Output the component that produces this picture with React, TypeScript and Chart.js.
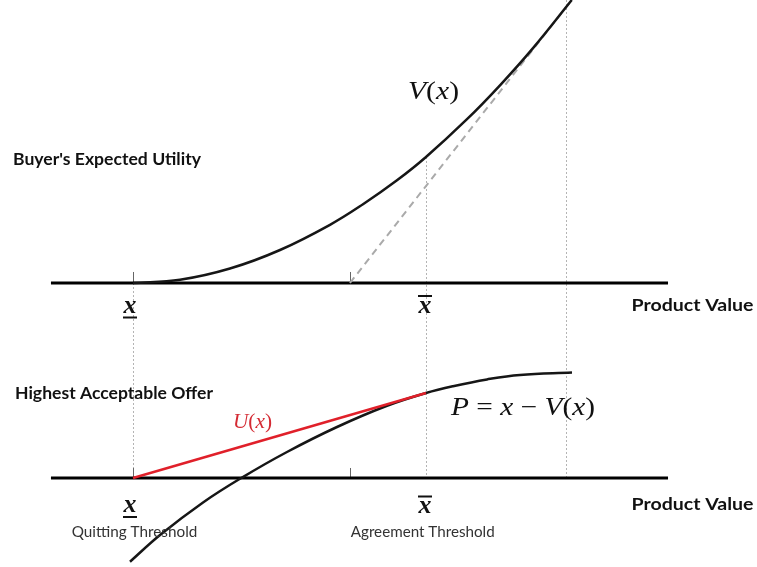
import React, { useEffect, useRef } from "react";
import { Chart, registerables } from "chart.js";

Chart.register(...registerables);

// ---- Key product values (x axis) ----
const QUIT_X = 1; // quitting threshold (x underline)
const AGREE_X = 5; // agreement threshold (x bar)
const KINK_X = 3.962; // where the dashed tangent leaves the axis
const CAP_X = 6.911; // right-hand guide
const AXIS_FROM = -0.12;
const AXIS_TO = 8.304;

// ---- Top panel: buyer's expected utility V(x) ----
const vX = [1.0, 1.642, 2.324, 3.007, 3.689, 4.14, 4.604, 5.0, 5.56, 6.01, 6.461, 6.99];
const vY = [0, 0.026, 0.115, 0.262, 0.462, 0.625, 0.815, 1.0, 1.3, 1.569, 1.864, 2.246];
const tangentX = [KINK_X, 6.99];
const tangentY = [0, 2.246];

// ---- Bottom panel: highest acceptable offer P = x - V(x) ----
const pX = [0.959, 1.369, 1.956, 2.488, 3.102, 3.785, 4.468, 5.0, 5.369, 5.833, 6.283, 6.993];
const pY = [-0.985, -0.671, -0.288, 0.005, 0.306, 0.6, 0.85, 1.0, 1.08, 1.16, 1.213, 1.24];
const uX = [QUIT_X, AGREE_X];
const uY = [0, 1.0];

const tickX = [QUIT_X, KINK_X];

const zip = (xs: number[], ys: number[]) => xs.map((x, i) => ({ x, y: ys[i] }));

type Run = { t: string; style?: string };

function drawRuns(
  ctx: CanvasRenderingContext2D,
  runs: Run[],
  family: string,
  weight: string | number,
  size: number,
  x: number,
  baseline: number,
  width: number | null,
  color: string,
  align: "left" | "center" = "left"
) {
  ctx.save();
  const fonts = runs.map((r) => `${r.style ?? "normal"} ${weight} ${size}px ${family}`);
  let total = 0;
  runs.forEach((r, i) => {
    ctx.font = fonts[i];
    total += ctx.measureText(r.t).width;
  });
  const sx = width ? width / total : 1;
  const startX = align === "center" ? x - (total * sx) / 2 : x;
  ctx.translate(startX, baseline);
  ctx.scale(sx, 1);
  ctx.fillStyle = color;
  ctx.textAlign = "left";
  ctx.textBaseline = "alphabetic";
  let cx = 0;
  runs.forEach((r, i) => {
    ctx.font = fonts[i];
    ctx.fillText(r.t, cx, 0);
    cx += ctx.measureText(r.t).width;
  });
  ctx.restore();
}

const SANS = "Lato, 'Open Sans', sans-serif";
const SERIF = "'Liberation Serif', 'DejaVu Serif', serif";

const diagramPlugin = {
  id: "diagram",
  beforeDatasetsDraw(chart: any) {
    const { ctx, scales, chartArea } = chart;
    const xs = scales.x;
    const yT = scales.yTop;
    const yB = scales.yBot;
    ctx.save();
    // dotted guides
    ctx.strokeStyle = "#b4b4b4";
    ctx.lineWidth = 1;
    ctx.setLineDash([2, 2]);
    const guide = (xv: number, yFrom: number, yTo: number) => {
      const px = Math.round(xs.getPixelForValue(xv)) + 0.5;
      ctx.beginPath();
      ctx.moveTo(px, yFrom);
      ctx.lineTo(px, yTo);
      ctx.stroke();
    };
    guide(QUIT_X, yT.getPixelForValue(0), yB.getPixelForValue(0));
    guide(AGREE_X, yT.getPixelForValue(vY[vX.indexOf(AGREE_X)]), yB.getPixelForValue(0));
    guide(CAP_X, chartArea.top, yB.getPixelForValue(0));
    ctx.setLineDash([]);
    // small ticks
    ctx.strokeStyle = "#666";
    tickX.forEach((tv) => {
      const px = Math.round(xs.getPixelForValue(tv)) + 0.5;
      const t0 = yT.getPixelForValue(0);
      const b0 = yB.getPixelForValue(0);
      ctx.beginPath();
      ctx.moveTo(px, t0);
      ctx.lineTo(px, t0 - 11);
      ctx.moveTo(px, b0);
      ctx.lineTo(px, b0 - 10);
      ctx.stroke();
    });
    ctx.restore();
  },
  afterDraw(chart: any) {
    const { ctx, scales } = chart;
    const xs = scales.x;
    const qx = xs.getPixelForValue(QUIT_X);
    const ax = xs.getPixelForValue(AGREE_X);
    const dark = "#111";

    drawRuns(ctx, [{ t: "Buyer's Expected Utility" }], SANS, 700, 17, 13, 164.5, 188, dark);
    drawRuns(ctx, [{ t: "Highest Acceptable Offer" }], SANS, 700, 17, 15, 399, 198, dark);
    drawRuns(ctx, [{ t: "Product Value" }], SANS, 700, 17, 631.5, 311, 122, dark);
    drawRuns(ctx, [{ t: "Product Value" }], SANS, 700, 17, 631.5, 510, 122, dark);
    drawRuns(ctx, [{ t: "Quitting Threshold" }], SANS, 400, 15, 71.7, 536.5, 125.6, "#333");
    drawRuns(ctx, [{ t: "Agreement Threshold" }], SANS, 400, 15, 350.7, 537, 144, "#333");

    // math labels
    drawRuns(
      ctx,
      [{ t: "V", style: "italic" }, { t: "(" }, { t: "x", style: "italic" }, { t: ")" }],
      SERIF, 400, 25, 408, 98.5, 51, dark
    );
    drawRuns(
      ctx,
      [{ t: "U", style: "italic" }, { t: "(" }, { t: "x", style: "italic" }, { t: ")" }],
      SERIF, 400, 21, 233, 427.5, 39, "#d42a33"
    );
    drawRuns(
      ctx,
      [
        { t: "P", style: "italic" },
        { t: " = " },
        { t: "x", style: "italic" },
        { t: " \u2212 " },
        { t: "V", style: "italic" },
        { t: "(" },
        { t: "x", style: "italic" },
        { t: ")" },
      ],
      SERIF, 400, 25, 451, 415, 144, dark
    );

    // x underline / x bar symbols
    const sym = (cx: number, baseline: number, bar: "under" | "over") => {
      drawRuns(ctx, [{ t: "x", style: "italic" }], SERIF, 700, 26, cx, baseline, null, dark, "center");
      ctx.save();
      ctx.strokeStyle = dark;
      ctx.lineWidth = 2;
      const yy = bar === "under" ? baseline + 5 : baseline - 16.5;
      ctx.beginPath();
      ctx.moveTo(cx - 7, yy);
      ctx.lineTo(cx + 7, yy);
      ctx.stroke();
      ctx.restore();
    };
    sym(qx - 3, 312.5, "under");
    sym(qx - 3, 512, "under");
    sym(ax - 1, 312.5, "over");
    sym(ax - 1, 513, "over");
  },
};

export default function App() {
  const ref = useRef<HTMLCanvasElement | null>(null);

  useEffect(() => {
    document.body.style.margin = "0";
    document.body.style.overflow = "hidden";
    const canvas = ref.current;
    if (!canvas) return;
    const line = (extra: any) => ({
      pointRadius: 0,
      fill: false,
      borderCapStyle: "butt",
      ...extra,
    });
    const chart = new Chart(canvas, {
      type: "line",
      data: {
        datasets: [
          line({ label: "U(x)", data: zip(uX, uY), yAxisID: "yBot", borderColor: "#e0202a", borderWidth: 2.5, tension: 0 }),
          line({ label: "P", data: zip(pX, pY), yAxisID: "yBot", borderColor: "#161616", borderWidth: 2.5, tension: 0.4 }),
          line({ label: "V(x)", data: zip(vX, vY), yAxisID: "yTop", borderColor: "#161616", borderWidth: 2.5, tension: 0.4 }),
          line({ label: "tangent", data: zip(tangentX, tangentY), yAxisID: "yTop", borderColor: "#aaaaaa", borderWidth: 2, borderDash: [7, 5], tension: 0 }),
          line({ label: "axisTop", data: zip([AXIS_FROM, AXIS_TO], [0, 0]), yAxisID: "yTop", borderColor: "#000", borderWidth: 3, tension: 0 }),
          line({ label: "axisBot", data: zip([AXIS_FROM, AXIS_TO], [0, 0]), yAxisID: "yBot", borderColor: "#000", borderWidth: 3, tension: 0 }),
        ],
      },
      options: {
        responsive: false,
        animation: false,
        layout: { padding: 0 },
        events: [],
        scales: {
          x: { type: "linear", min: -0.8157, max: 9.5188, display: false },
          yTop: { type: "linear", position: "left", min: -2.254, max: 2.246, display: false },
          yBot: { type: "linear", position: "left", min: -1.0471, max: 5.6235, display: false },
        },
        plugins: {
          legend: { display: false },
          tooltip: { enabled: false },
          title: { display: false },
        },
      },
      plugins: [diagramPlugin],
    } as any);
    return () => chart.destroy();
  }, []);

  return (
    <div style={{ width: 757, height: 567, background: "#fff" }}>
      <canvas ref={ref} width={757} height={567} style={{ display: "block" }} />
    </div>
  );
}
